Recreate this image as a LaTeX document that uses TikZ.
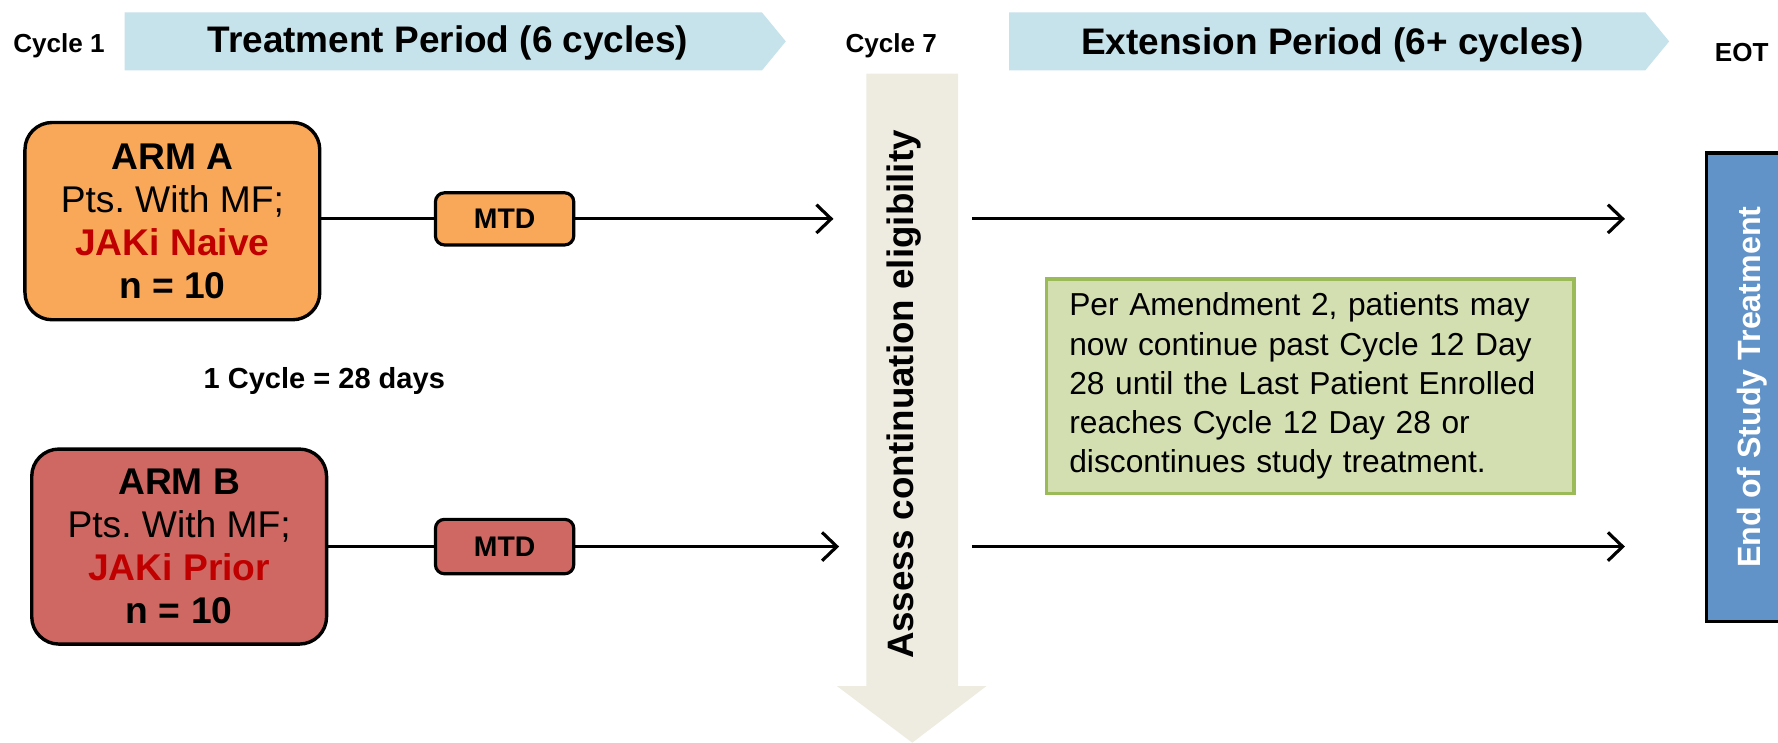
\documentclass[tikz,border=0pt]{standalone}
\usepackage{fontspec}
\setmainfont{Liberation Sans}
\usetikzlibrary{arrows.meta}
\frenchspacing
\definecolor{bannerblue}{HTML}{C6E2EB}
\definecolor{armorange}{HTML}{F9A85A}
\definecolor{armred}{HTML}{CF6862}
\definecolor{jakired}{HTML}{C00000}
\definecolor{assessgrey}{HTML}{EEECE1}
\definecolor{notegreen}{HTML}{D3DFB1}
\definecolor{noteborder}{HTML}{9BBB59}
\definecolor{eotblue}{HTML}{6193C9}
\tikzset{
  armbox/.style={draw=black, line width=1.5pt, rounded corners=12pt, minimum width=130pt,
    minimum height=87pt, align=center, inner sep=0pt, font=\fontsize{16.4}{19}\selectfont},
  mtdbox/.style={draw=black, line width=1.4pt, rounded corners=4pt, minimum width=61pt,
    minimum height=23pt, inner sep=0pt, font=\fontsize{12.5}{15}\selectfont\bfseries},
  flow/.style={line width=1.3pt, -{Straight Barb[length=6.5pt,width=12.5pt,line width=1.4pt]}},
  plain/.style={line width=1.3pt},
  banner/.style={fill=bannerblue, draw=none},
  cyclelbl/.style={font=\fontsize{11.5}{13}\selectfont\bfseries},
  bannertxt/.style={font=\fontsize{16.3}{19}\selectfont\bfseries},
}
\begin{document}
\begin{tikzpicture}[x=0.5pt,y=-0.5pt]
\useasboundingbox (0,0) rectangle (1568,655);
\clip (0,0) rectangle (1568,655);

% banners
\fill[banner] (110,11) -- (672,11) -- (693,36.5) -- (672,62) -- (110,62) -- cycle;
\fill[banner] (890,11) -- (1451,11) -- (1472,36.5) -- (1451,62) -- (890,62) -- cycle;
\node[bannertxt] (treat) at (395,38) {Treatment Period (6 cycles)};
\node[bannertxt] (ext) at (1175,40) {Extension Period (6+ cycles)};
\node[cyclelbl] (c1) at (52,40) {Cycle 1};
\node[cyclelbl] (c7) at (786,40) {Cycle 7};
\node[cyclelbl] (eot) at (1536,46) {EOT};

% grey assess arrow
\fill[assessgrey] (764,65) -- (845,65) -- (845,605) -- (870,605) -- (804.5,655) -- (738,605) -- (764,605) -- cycle;
\node[rotate=90, font=\fontsize{16.2}{19}\selectfont\bfseries] (assess) at (797,348) {Assess continuation eligibility};

% arms
\node[armbox, fill=armorange] (armA) at (152,195) {\textbf{ARM A}\\Pts. With MF;\\\textcolor{jakired}{\textbf{JAKi Naive}}\\\textbf{n = 10}};
\node[armbox, fill=armred, minimum height=86pt] (armB) at (158,482) {\textbf{ARM B}\\Pts. With MF;\\\textcolor{jakired}{\textbf{JAKi Prior}}\\\textbf{n = 10}};
\node[mtdbox, fill=armorange] (mtdA) at (445,193) {MTD};
\node[mtdbox, fill=armred, minimum height=24pt] (mtdB) at (445,482) {MTD};

\node[font=\fontsize{12.8}{15}\selectfont\bfseries] (cyc) at (286,336) {1 Cycle = 28 days};

\coordinate (aEnd) at (735,193);
\coordinate (bEnd) at (740,482);
\coordinate (aStart2) at (857,193);
\coordinate (aEnd2) at (1433,193);
\coordinate (bStart2) at (857,482);
\coordinate (bEnd2) at (1433,482);

\draw[plain] (armA.east |- mtdA.west) -- (mtdA.west);
\draw[flow] (mtdA.east) -- (aEnd);
\draw[plain] (armB.east |- mtdB.west) -- (mtdB.west);
\draw[flow] (mtdB.east) -- (bEnd);
\draw[flow] (aStart2) -- (aEnd2);
\draw[flow] (bStart2) -- (bEnd2);

% note
\node[draw=noteborder, line width=1.5pt, fill=notegreen, minimum width=232.5pt, minimum height=94.5pt,
  text width=212.5pt, align=left, inner sep=0pt, font=\fontsize{14}{17.3}\selectfont] (note) at (1155.5,340.5)
  {Per Amendment 2, patients may\\now continue past Cycle 12 Day\\28 until the Last Patient Enrolled\\reaches Cycle 12 Day 28 or\\discontinues study treatment.};

% EOT box
\node[draw=black, line width=1.5pt, fill=eotblue, minimum width=42.5pt, minimum height=206.5pt, inner sep=0pt] (eotbox) at (1547.5,341.5) {};
\node[rotate=90, text=white, font=\fontsize{14.2}{17}\selectfont\bfseries] (eottxt) at (1545,341.5) {End of Study Treatment};
\end{tikzpicture}
\end{document}
